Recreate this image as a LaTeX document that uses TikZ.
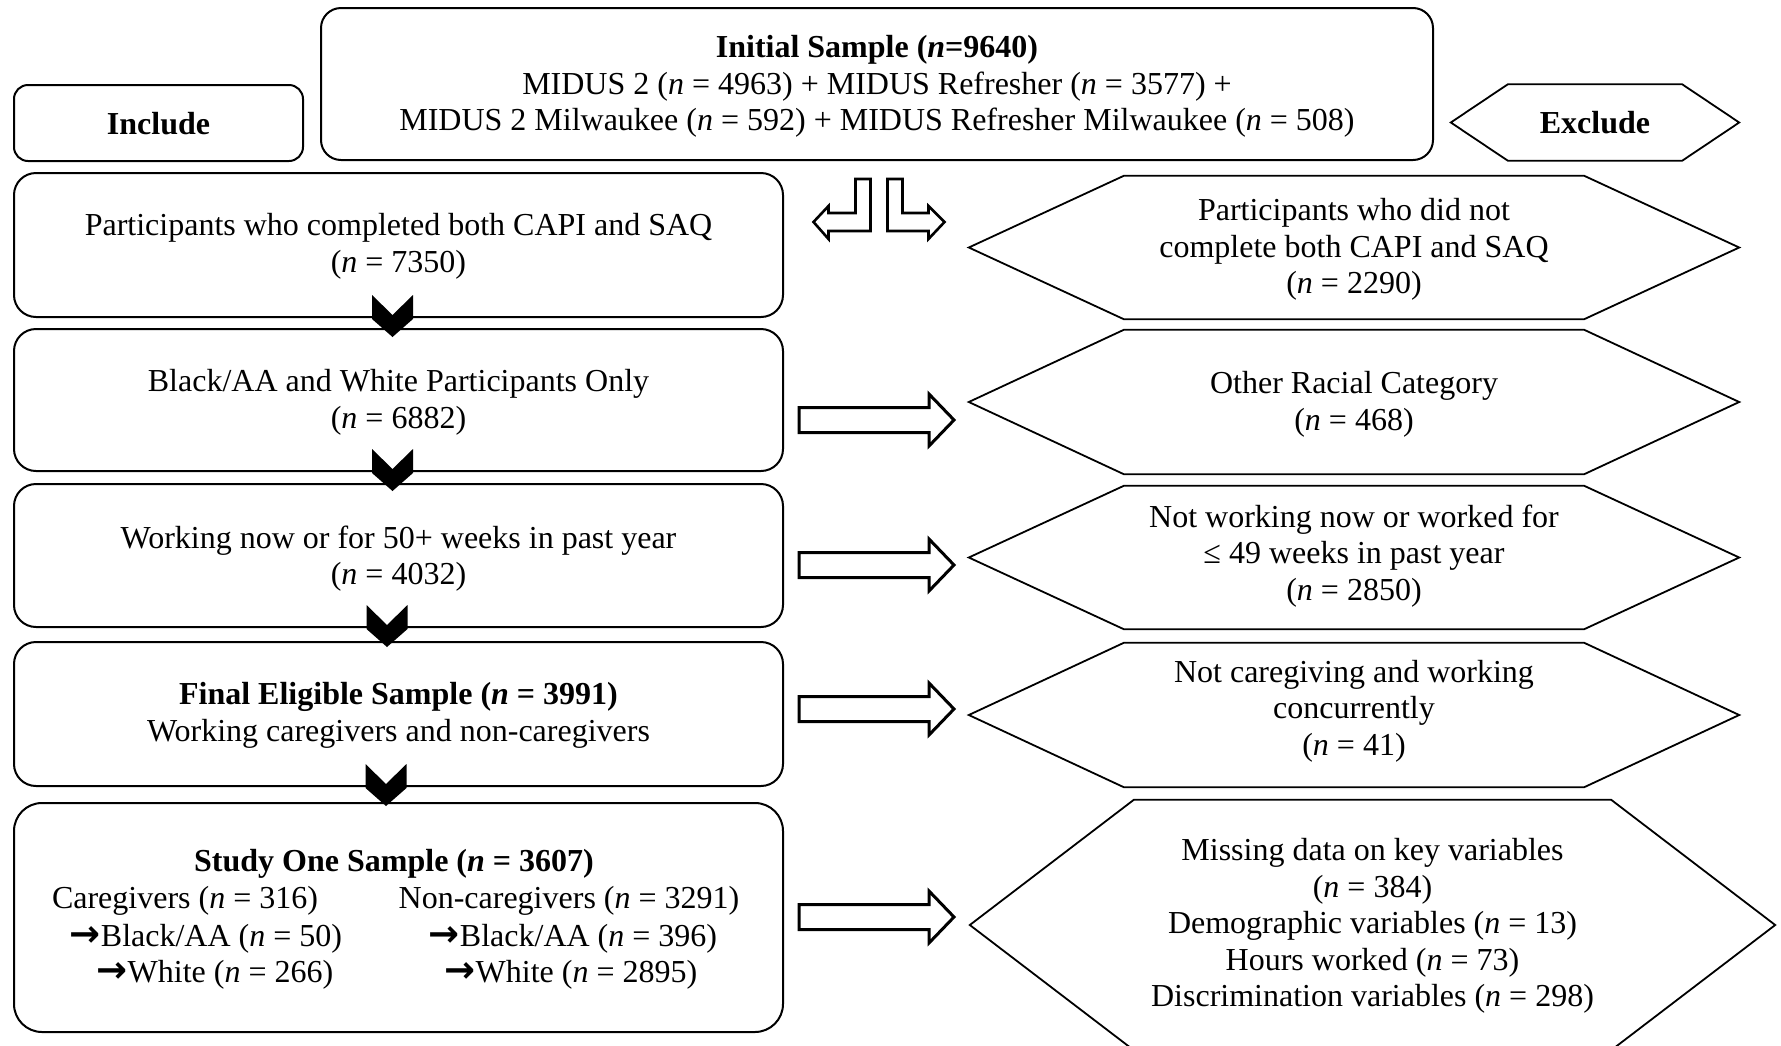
\documentclass[tikz,border=0pt]{standalone}
\usepackage{fontspec}
\setmainfont{Liberation Serif}
\newfontfamily\arrfont{DejaVu Sans}
\usetikzlibrary{calc}
\newcommand{\nn}{\textit{n}}
\newcommand{\rarr}{{\arrfont\bfseries\fontsize{37}{37}\selectfont →}}
\begin{document}
\begin{tikzpicture}[x=1pt,y=-1pt,
  every node/.style={font=\fontsize{32}{36.6}\selectfont, align=center, inner sep=0pt},
  rbox/.style={draw, line width=2pt, rounded corners=22pt},
  hexline/.style={draw, line width=1.8pt, line join=miter},
  blockarrow/.style={draw, line width=3pt, fill=white, line join=miter},
  chev/.style={fill=black, draw=none}
]
\useasboundingbox (0,0) rectangle (1781,1045);

% include boxes (shapes)
\node[rbox, rounded corners=20pt, minimum width=1112pt, minimum height=152pt] (init) at (877,84) {};
\node[rbox, rounded corners=14pt, minimum width=289pt, minimum height=76pt] (incl) at (158.5,123) {};
\node[rbox, minimum width=769pt, minimum height=144pt] (b1) at (398.5,245) {};
\node[rbox, minimum width=769pt, minimum height=142pt] (b2) at (398.5,400) {};
\node[rbox, minimum width=769pt, minimum height=143pt] (b3) at (398.5,555.5) {};
\node[rbox, minimum width=769pt, minimum height=144pt] (b4) at (398.5,714) {};
\node[rbox, rounded corners=28pt, minimum width=769pt, minimum height=229pt] (b5) at (398.5,917.5) {};

% include texts
\node (tinit) at ($(init)+(0,2.5)$)
  {\textbf{Initial Sample (\textit{n}=9640)}\\
   MIDUS 2 (\nn{} = 4963) + MIDUS Refresher (\nn{} = 3577) +\\
   MIDUS 2 Milwaukee (\nn{} = 592) + MIDUS Refresher Milwaukee (\nn{} = 508)};
\node (tincl) at ($(incl)+(0,0.5)$) {\textbf{Include}};
\node (tb1) at ($(b1)+(0,1.5)$) {Participants who completed both CAPI and SAQ\\(\nn{} = 7350)};
\node (tb2) at ($(b2)+(0,2.5)$) {Black/AA and White Participants Only\\(\nn{} = 6882)};
\node (tb3) at ($(b3)+(0,3)$) {Working now or for 50+ weeks in past year\\(\nn{} = 4032)};
\node (tb4) at ($(b4)+(0,1.5)$) {\textbf{Final Eligible Sample (\textit{n} = 3991)}\\Working caregivers and non-caregivers};
\node (b5t) at (394,863.5) {\textbf{Study One Sample (\textit{n} = 3607)}};
\node (b5a) at (185,900.5) {Caregivers (\nn{} = 316)};
\node (b5b) at (206,938.5) {\rarr Black/AA (\nn{} = 50)};
\node (b5c) at (215,974.5) {\rarr White (\nn{} = 266)};
\node (b5d) at (569,900.5) {Non-caregivers (\nn{} = 3291)};
\node (b5e) at (573,938.5) {\rarr Black/AA (\nn{} = 396)};
\node (b5f) at (571,974.5) {\rarr White (\nn{} = 2895)};

% exclude hexagons (frames)
\node[minimum width=174pt, minimum height=76pt] (excl) at (1595,122.5) {};
\node[minimum width=460pt, minimum height=143pt] (h1) at (1354,247.5) {};
\node[minimum width=460pt, minimum height=144pt] (h2) at (1354,402) {};
\node[minimum width=460pt, minimum height=143pt] (h3) at (1354,557.5) {};
\node[minimum width=460pt, minimum height=144pt] (h4) at (1354,715) {};
\node[minimum width=477pt, minimum height=250pt] (h5) at (1372.5,925) {};

\newcommand{\drawhexa}[2]{%
  \draw[hexline] (#1.north west) -- (#1.north east) -- ($(#1.east)+(#2,0)$)
    -- (#1.south east) -- (#1.south west) -- ($(#1.west)+(-#2,0)$) -- cycle;}
\drawhexa{excl}{57}
\drawhexa{h1}{155}
\drawhexa{h2}{155}
\drawhexa{h3}{155}
\drawhexa{h4}{155}
\drawhexa{h5}{164}

% exclude texts
\node (texcl) at ($(excl)+(0,0.5)$) {\textbf{Exclude}};
\node (th1) at ($(h1)+(0,2)$) {Participants who did not\\complete both CAPI and SAQ\\(\nn{} = 2290)};
\node (th2) at ($(h2)+(0,2.5)$) {Other Racial Category\\(\nn{} = 468)};
\node (th3) at ($(h3)+(0,-1.5)$) {Not working now or worked for\\≤ 49 weeks in past year\\(\nn{} = 2850)};
\node (th4) at ($(h4)+(0,-4)$) {Not caregiving and working\\concurrently\\(\nn{} = 41)};
\node (th5) at (1372.5,926) {Missing data on key variables\\(\nn{} = 384)\\Demographic variables (\nn{} = 13)\\Hours worked (\nn{} = 73)\\Discrimination variables (\nn{} = 298)};

% right block arrows
\newcommand{\rblock}[2]{%
  \draw[blockarrow] ($(#1.east)+(15,#2-12.5)$) -- ++(130,0) -- ++(0,-13.5) -- ++(25,26)
    -- ++(-25,26) -- ++(0,-13.5) -- ++(-130,0) -- cycle;}
\rblock{b2}{20}
\rblock{b3}{9.5}
\rblock{b4}{-5}
\rblock{b5}{-0.5}

% split arrows under initial sample
\coordinate (sp) at ($(init.south)+(1.5,18)$);
\draw[blockarrow, line width=2.6pt] ($(sp)+(-8,0)$) -- ++(0,52) -- ++(-42,0) -- ++(0,8) -- ++(-15,-17)
  -- ++(15,-16) -- ++(0,7) -- ++(27,0) -- ++(0,-34) -- cycle;
\draw[blockarrow, line width=2.6pt] ($(sp)+(9,0)$) -- ++(0,52) -- ++(41,0) -- ++(0,8) -- ++(16,-17)
  -- ++(-16,-16) -- ++(0,7) -- ++(-26,0) -- ++(0,-34) -- cycle;

% chevrons between include boxes
\newcommand{\chevron}[2]{%
  \fill[chev] ($(#1.south)+(#2-20.5,-23)$) -- ++(20.5,20) -- ++(20.5,-20) -- ++(0,24)
    -- ++(-20.5,18) -- ++(-20.5,-18) -- cycle;}
\chevron{b1}{-6}
\chevron{b2}{-6}
\chevron{b3}{-11.5}
\chevron{b4}{-12.5}
\end{tikzpicture}
\end{document}
